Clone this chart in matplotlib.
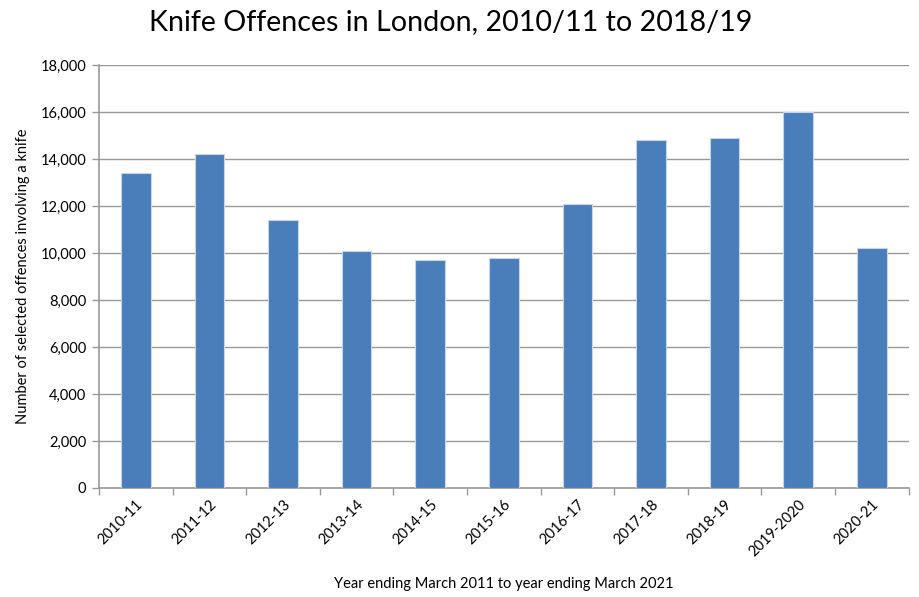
import matplotlib
matplotlib.use("Agg")
import matplotlib.pyplot as plt
import numpy as np
from matplotlib.ticker import FuncFormatter, FixedLocator

years = ["2010-11", "2011-12", "2012-13", "2013-14", "2014-15", "2015-16",
         "2016-17", "2017-18", "2018-19", "2019-2020", "2020-21"]
offences = [13400, 14200, 11400, 10100, 9700, 9800, 12100, 14800, 14900, 16000, 10200]

plt.rcParams["font.family"] = ["Lato", "DejaVu Sans"]

fig = plt.figure(figsize=(9.2, 5.97), dpi=100)
ax = fig.add_axes([0.1076, 0.1826, 0.880, 0.7084])

x = np.arange(len(years))
ax.bar(x, offences, width=0.4, color="#4A7EBB", edgecolor="#C6D5EA",
       linewidth=0.8, zorder=3)

ax.set_xlim(-0.5, len(years) - 0.5)
ax.set_ylim(0, 18000)
ax.set_yticks(np.arange(0, 18001, 2000))
ax.yaxis.set_major_formatter(FuncFormatter(lambda v, p: f"{int(v):,}"))
ax.grid(axis="y", color="#999999", linewidth=1.0, zorder=0)

ax.set_xticks(x)
ax.set_xticklabels(years, rotation=45, ha="right", rotation_mode="anchor",
                   fontsize=10.5)
ax.tick_params(axis="x", length=0, pad=7)
ax.xaxis.set_minor_locator(FixedLocator(np.arange(-0.5, len(years), 1.0)))
ax.tick_params(axis="x", which="minor", length=5, color="#999999", width=1)
ax.tick_params(axis="y", length=5, color="#999999", width=1, labelsize=10.5, pad=4)

for side in ("top", "right"):
    ax.spines[side].set_visible(False)
for side in ("left", "bottom"):
    ax.spines[side].set_color("#999999")
    ax.spines[side].set_linewidth(1.2)

ax.set_ylabel("Number of selected offences involving a knife", fontsize=10.5,
              labelpad=8)
ax.set_xlabel("Year ending March 2011 to year ending March 2021", fontsize=10.5,
              labelpad=13)

fig.text(0.49, 0.963, "Knife Offences in London, 2010/11 to 2018/19",
         ha="center", va="center", fontsize=20.6)

fig.savefig("out.png", dpi=100, facecolor="white")
